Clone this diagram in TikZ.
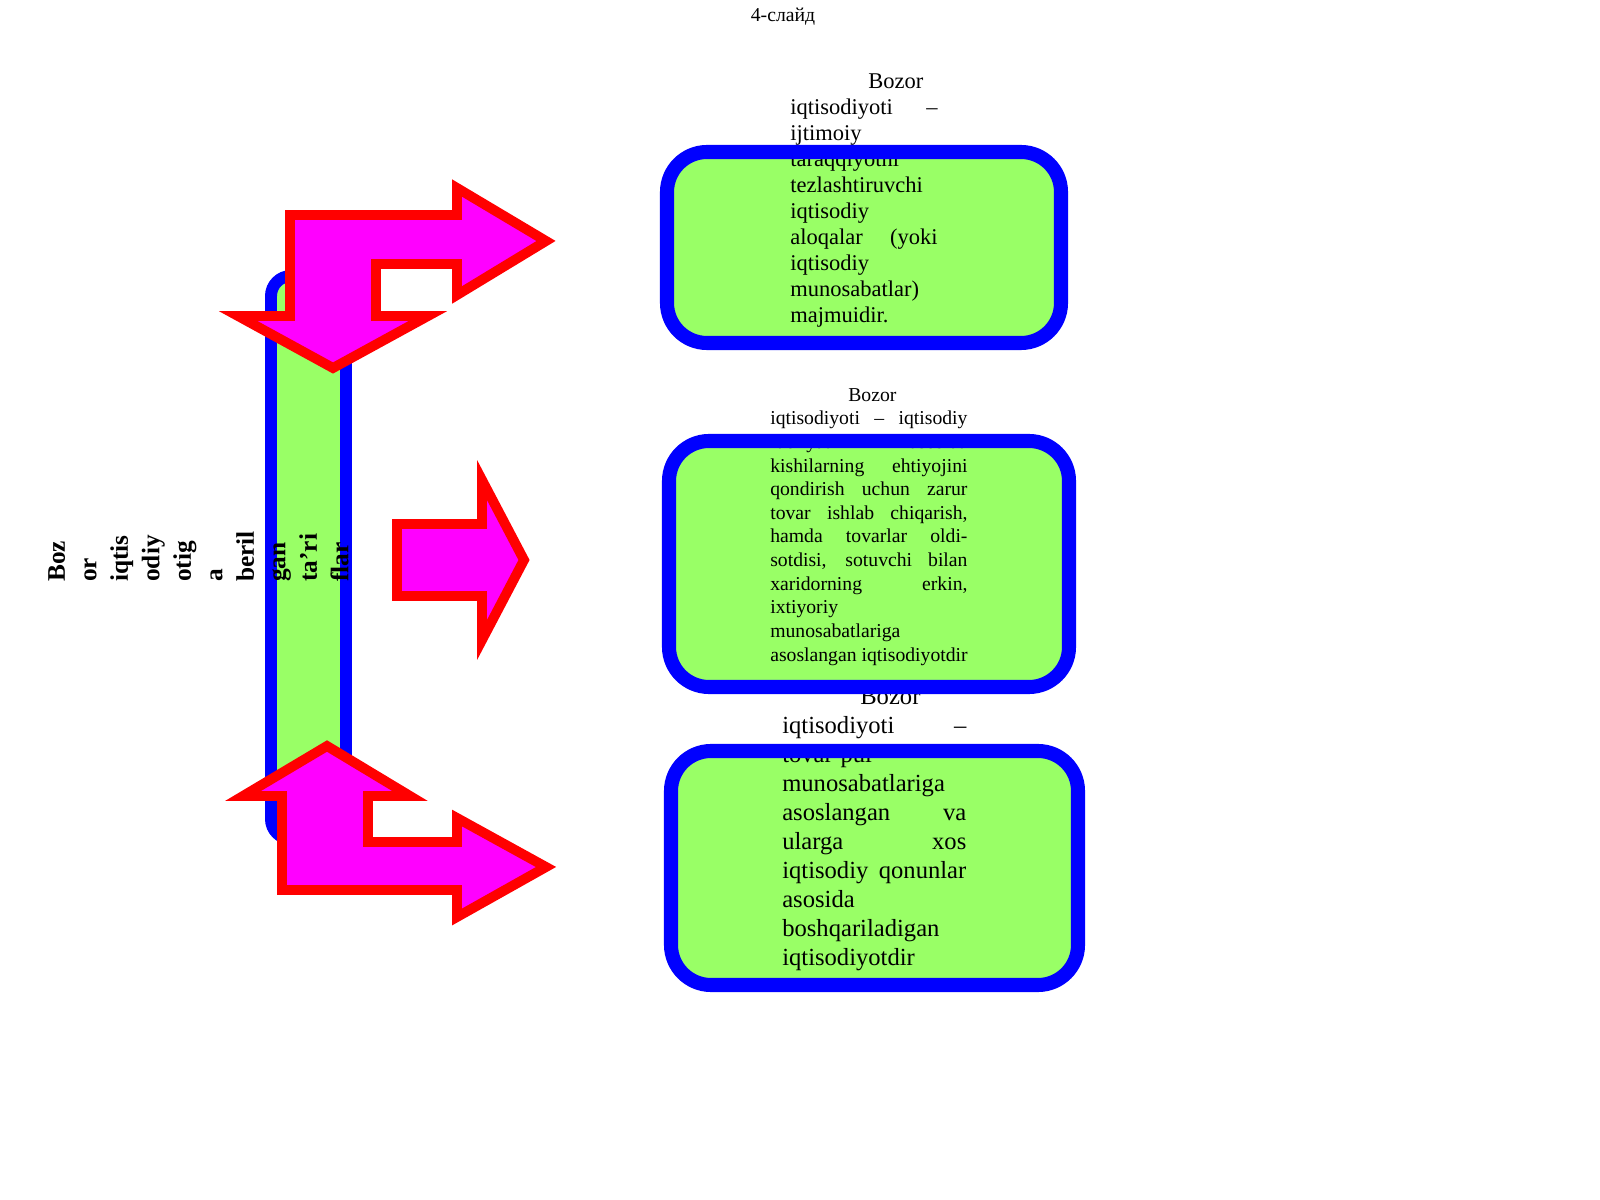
\documentclass[tikz,border=0pt]{standalone}
\usepackage{fontspec}
\setmainfont{Liberation Serif}
\newcommand{\jline}[2]{\makebox[#1][s]{#2}}
\begin{document}
\begin{tikzpicture}[x=0.025cm,y=-0.025cm]
    \definecolor{bz_green}{RGB}{153,255,102}
    \definecolor{bz_blue}{RGB}{0,0,255}
    \definecolor{bz_red}{RGB}{255,0,0}
    \definecolor{bz_pink}{RGB}{255,0,255}
    \tikzset{
        bzbox/.style={draw=bz_blue,line width=10pt,rounded corners=1cm},
        bzarrow/.style={draw=bz_red,fill=bz_pink,line width=7pt,line join=miter},
        bztext/.style={anchor=north west,inner sep=0pt,align=left}
    }
    \useasboundingbox (0,0) rectangle (1600,1200);
    \node[inner sep=0pt] (title) at (783,17) {\fontsize{14}{16}\selectfont 4-слайд};
    % bar with rotated title
    \draw[draw=bz_blue,fill=bz_green,line width=8.5pt,rounded corners=0.5cm] (271,276) rectangle (346,839);
    \node[bztext,rotate=90,font=\bfseries\fontsize{18}{22.4}\selectfont] (bzdef) at (48,582)
        {Boz\\or\\iqtis\\odiy\\otig\\a\\beril\\gan\\ta’ri\\flar};
    % boxes: fill, text, border
    \fill[bz_green,rounded corners=1cm] (667,152) rectangle (1061,343);
    \fill[bz_green,rounded corners=1cm] (669,441) rectangle (1069,687);
    \fill[bz_green,rounded corners=1cm] (671,751) rectangle (1078,985);
    \node[bztext,font=\fontsize{16}{18.5}\selectfont] (txtA) at (790,73)
        {\hspace*{1.95cm}Bozor\\ \jline{3.68cm}{iqtisodiyoti –}\\ijtimoiy\\taraqqiyotni\\tezlashtiruvchi\\iqtisodiy\\
         \jline{3.68cm}{aloqalar (yoki}\\iqtisodiy\\munosabatlar)\\majmuidir.};
    \node[bztext,font=\fontsize{14}{16.8}\selectfont] (txtB) at (770,388)
        {\hspace*{1.95cm}Bozor\\ \jline{4.93cm}{iqtisodiyoti – iqtisodiy}\\ \jline{4.93cm}{faoliyat asosida}\\
         \jline{4.93cm}{kishilarning ehtiyojini}\\ \jline{4.93cm}{qondirish uchun zarur}\\
         \jline{4.93cm}{tovar ishlab chiqarish,}\\ \jline{4.93cm}{hamda tovarlar oldi-}\\
         \jline{4.93cm}{sotdisi, sotuvchi bilan}\\ \jline{4.93cm}{xaridorning erkin,}\\ixtiyoriy\\munosabatlariga\\
         asoslangan iqtisodiyotdir};
    \node[bztext,font=\fontsize{17.5}{20.6}\selectfont] (txtC) at (782,688)
        {\hspace*{1.95cm}Bozor\\ \jline{4.6cm}{iqtisodiyoti –}\\tovar-pul\\munosabatlariga\\ \jline{4.6cm}{asoslangan va}\\
         \jline{4.6cm}{ularga xos}\\ \jline{4.6cm}{iqtisodiy qonunlar}\\asosida\\boshqariladigan\\iqtisodiyotdir};
    \draw[bzbox] (667,152) rectangle (1061,343);
    \draw[bzbox] (669,441) rectangle (1069,687);
    \draw[bzbox] (671,751) rectangle (1078,985);
    % arrows
    \draw[bzarrow] (333,368) -- (238,316) -- (290,316) -- (290,215) -- (457,215) -- (457,188) -- (546,241)
        -- (457,295) -- (457,264) -- (376,264) -- (376,316) -- (428,316) -- cycle;
    \draw[bzarrow] (397,524) -- (482,524) -- (482,480) -- (524,560) -- (482,640) -- (482,596) -- (397,596) -- cycle;
    \draw[bzarrow] (327,746) -- (410,796) -- (368,796) -- (368,842) -- (457,842) -- (457,818) -- (546,867)
        -- (457,917) -- (457,890) -- (282,890) -- (282,796) -- (243,796) -- cycle;
\end{tikzpicture}
\end{document}
